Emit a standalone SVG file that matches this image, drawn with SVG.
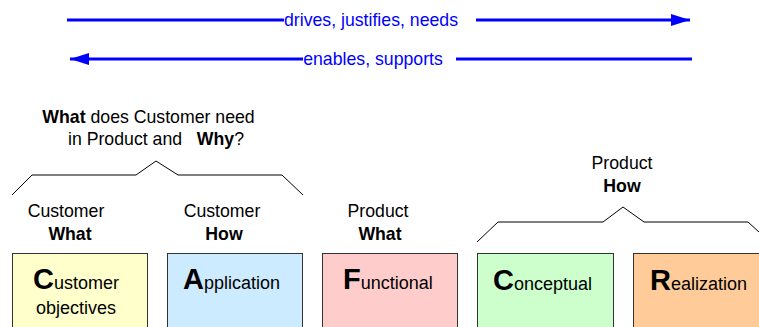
<svg xmlns="http://www.w3.org/2000/svg" width="759" height="327" viewBox="0 0 759 327">
<defs>
<marker id="ah" viewBox="0 0 19 12" refX="19" refY="6" markerWidth="19" markerHeight="12" markerUnits="userSpaceOnUse" orient="auto">
<path d="M0,0 L19,6 L0,12 Z" fill="#0000FF"/>
</marker>
<style>
text{font-family:"Liberation Sans",Arial,sans-serif;fill:#000}
.t{font-size:17.7px}
.c{text-anchor:middle}
.b{font-weight:bold}
.blue{fill:#0000FF}
.arr{stroke:#0000FF;stroke-width:3;fill:none}
.br{stroke:#000;stroke-width:1;fill:none}
.box{stroke:#333;stroke-width:1}
.big{font-size:29px;font-weight:bold}
.sm{font-size:18px}
</style>
</defs>
<g id="connectors">
<line class="arr" x1="67" y1="20" x2="284" y2="20"/>
<line class="arr" x1="476" y1="20" x2="690" y2="20" marker-end="url(#ah)"/>
<line class="arr" x1="303" y1="59" x2="70" y2="59" marker-end="url(#ah)"/>
<line class="arr" x1="456" y1="59" x2="692" y2="59"/>
<text class="t c blue" x="371" y="26">drives, justifies, needs</text>
<text class="t c blue" x="373" y="65">enables, supports</text>
</g>
<g id="brace-left">
<text class="t c" x="148.5" y="123"><tspan class="b">What</tspan> does Customer need</text>
<text class="t c" x="156" y="145" xml:space="preserve">in Product and   <tspan class="b">Why</tspan>?</text>
<polyline class="br" points="12,195 32,175 136,175 156,161 178,175 282,175 303,195"/>
</g>
<g id="brace-right">
<text class="t c" x="622" y="169">Product</text>
<text class="t c b" x="622" y="192">How</text>
<polyline class="br" points="477,242 498,222 603,222 623,207 644,222 748,222 759,232"/>
</g>
<g id="label-customer-what">
<text class="t c" x="66" y="217">Customer</text>
<text class="t c b" x="70" y="240">What</text>
</g>
<g id="label-customer-how">
<text class="t c" x="222" y="217">Customer</text>
<text class="t c b" x="224" y="240">How</text>
</g>
<g id="label-product-what">
<text class="t c" x="378" y="217">Product</text>
<text class="t c b" x="380" y="240">What</text>
</g>
<g id="node-customer">
<rect class="box" x="12.5" y="253.5" width="135" height="80" fill="#FFFFCC"/>
<text x="33" y="289"><tspan class="big">C</tspan><tspan class="sm">ustomer</tspan></text>
<text class="sm" x="36" y="314">objectives</text>
</g>
<g id="node-application">
<rect class="box" x="167.5" y="253.5" width="135" height="80" fill="#CCEBFF"/>
<text x="183" y="289"><tspan class="big">A</tspan><tspan class="sm">pplication</tspan></text>
</g>
<g id="node-functional">
<rect class="box" x="322.5" y="253.5" width="135" height="80" fill="#FFCCCC"/>
<text x="343" y="289"><tspan class="big">F</tspan><tspan class="sm">unctional</tspan></text>
</g>
<g id="node-conceptual">
<rect class="box" x="477.5" y="253.5" width="136" height="80" fill="#CCFFCC"/>
<text x="493" y="290"><tspan class="big">C</tspan><tspan class="sm">onceptual</tspan></text>
</g>
<g id="node-realization">
<rect class="box" x="633.5" y="253.5" width="140" height="80" fill="#FFCC99"/>
<text x="650" y="290"><tspan class="big">R</tspan><tspan class="sm">ealization</tspan></text>
</g>
</svg>
